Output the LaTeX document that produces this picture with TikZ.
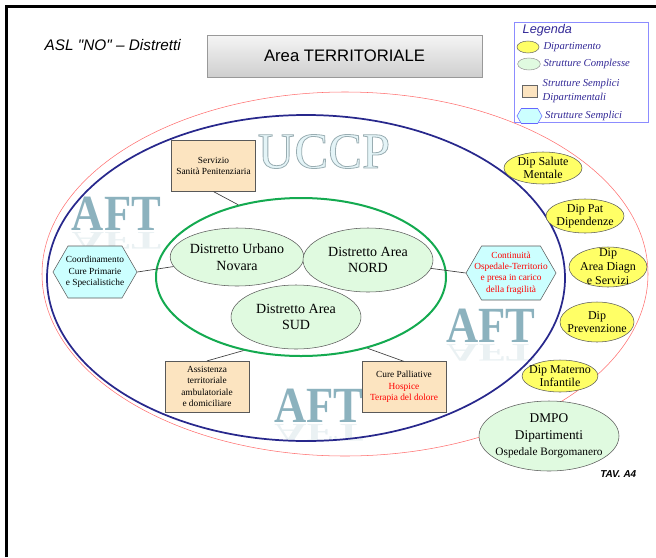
\documentclass[tikz,border=0pt]{standalone}
\usepackage{fontspec}
\setmainfont{Liberation Serif}
\newfontfamily\arialfont{Liberation Sans}
\usepackage{tikz}
\usetikzlibrary{positioning, shapes.geometric, shapes.symbols}
\definecolor{distgreen}{RGB}{224,250,224}
\definecolor{dipyellow}{RGB}{255,255,102}
\definecolor{peach}{RGB}{252,228,192}
\definecolor{hexcyan}{RGB}{204,255,255}
\definecolor{ringblue}{RGB}{40,40,140}
\definecolor{ringgreen}{RGB}{20,170,80}
\definecolor{ringred}{RGB}{255,110,110}
\definecolor{aftblue}{RGB}{140,178,190}
\definecolor{uccpfill}{RGB}{228,244,247}
\definecolor{legtext}{RGB}{50,40,150}
\definecolor{legframe}{RGB}{140,140,255}

\begin{document}
\begin{tikzpicture}[x=0.75pt, y=-0.75pt]
\tikzstyle{ring}=[ellipse, inner sep=0pt]
\tikzstyle{distretto}=[draw=black!65, ellipse, fill=distgreen, inner sep=0pt, align=center, minimum width=97.5pt, minimum height=48pt, font=\fontsize{10.5}{12.5}\selectfont]
\tikzstyle{dip}=[draw=black!65, ellipse, fill=dipyellow, inner sep=-3pt, align=center, font=\fontsize{9}{10}\selectfont]
\tikzstyle{service}=[draw=black!65, rectangle, fill=peach, align=center, minimum width=63pt, minimum height=38pt, inner sep=1pt, font=\fontsize{7}{8.5}\selectfont]
\tikzstyle{hex}=[draw=black!65, signal, signal to=east and west, signal pointer angle=120, fill=hexcyan, align=center, inner xsep=-8pt, inner ysep=2pt, font=\fontsize{7}{8.5}\selectfont]
\tikzstyle{link}=[draw, black!75, line width=0.5pt]
\tikzstyle{aft}=[anchor=base, inner sep=0pt, text=aftblue, font=\fontsize{38}{38}\selectfont\bfseries, xscale=0.88, transform shape]
\tikzstyle{aft-mirror}=[aft, yscale=-0.5, text=aftblue!18]
\tikzstyle{legtxt}=[inner sep=1pt, text=legtext, align=left, font=\fontsize{8}{10}\selectfont\itshape]

\useasboundingbox (0,0) rectangle (656,557);
\draw[line width=2pt] (6.5,557) -- (6.5,6.5) -- (656,6.5);

\node[aft] (aft-left) at (116.5,230) {AFT};
\node[aft-mirror] (aft-left-r) at (116.5,232) {AFT};
\node[aft] (aft-right) at (491,342) {AFT};
\node[aft-mirror] (aft-right-r) at (491,344) {AFT};
\node[aft] (aft-bottom) at (319,422) {AFT};
\node[aft-mirror] (aft-bottom-r) at (319,424) {AFT};
\node[anchor=base, inner sep=0pt, text=uccpfill, font=\fontsize{38}{38}\selectfont] (uccp) at (324,168)
  {\special{pdf:literal direct 2 Tr 0.6 w 0.6 0.68 0.7 RG}UCCP\special{pdf:literal direct 0 Tr}};

\node[anchor=west, font=\arialfont\itshape\fontsize{11.5}{13}\selectfont] (asl-title) at (40,45) {ASL "NO" – Distretti};
\node[draw=black!40, top color=gray!8, bottom color=gray!38, minimum width=206pt, minimum height=31.5pt, font=\arialfont\fontsize{12.5}{14}\selectfont] (area-terr) at (344.5,56) {Area TERRITORIALE};

\node[ring, draw=ringred, line width=0.4pt, minimum width=454.5pt, minimum height=273pt] (outer-ring) at (345,274) {};
\node[ring, draw=ringblue, line width=1.3pt, minimum width=388.5pt, minimum height=244.5pt] (uccp-ring) at (306,278) {};
\node[ring, draw=ringgreen, line width=1.5pt, minimum width=217.5pt, minimum height=118.5pt] (dist-ring) at (301,277) {};

\node[distretto, minimum height=43.5pt] (urbano) at (237,257) {Distretto Urbano\\Novara};
\node[distretto] (nord) at (368,260) {Distretto Area\\NORD};
\node[distretto] (sud) at (296,317) {Distretto Area\\SUD};

\node[service] (penit) at (213.5,166) {Servizio\\Sanità Penitenziaria};
\node[service] (assist) at (207,386.5) {Assistenza\\territoriale\\ambulatoriale\\e domiciliare};
\node[service] (palliative) at (404,387) {Cure Palliative\\\textcolor{red}{Hospice}\\\textcolor{red}{Terapia del dolore}};

\node[hex, minimum width=63pt, minimum height=39pt] (coord-hex) at (95,272) {Coordinamento\\Cure Primarie\\e Specialistiche};
\node[hex, text=red, minimum width=67.5pt, minimum height=40.5pt] (cont-hex) at (511,273) {Continuità\\Ospedale-Territorio\\e presa in carico\\della fragilità};

\path[link] (penit.south) edge (dist-ring.131);
\path[link] (coord-hex.east) edge (urbano);
\path[link] (nord) edge (cont-hex.west);
\path[link] (assist.north) edge (dist-ring.232);
\path[link] (palliative.north) edge (dist-ring.313);

\node[dip, minimum width=58.5pt, minimum height=24pt] (dip-mental) at (543,168) {Dip Salute\\Mentale};
\node[dip, minimum width=58.5pt, minimum height=25.5pt] (dip-pat) at (585,216) {Dip Pat\\Dipendenze};
\node[dip, minimum width=58.5pt, minimum height=30pt, inner sep=-5pt, font=\fontsize{9}{10.5}\selectfont] (dip-diagn) at (608,267) {Dip\\Area Diagn\\e Servizi};
\node[dip, minimum width=55.5pt, minimum height=30pt, inner sep=-5pt] (dip-prev) at (597,322) {Dip\\Prevenzione};
\node[dip, minimum width=55.5pt, minimum height=24pt] (dip-mat) at (560,376) {Dip Materno\\Infantile};
\node[distretto, minimum width=105pt, minimum height=52.5pt, inner sep=-6pt, font=\fontsize{10}{12.5}\selectfont] (dmpo) at (549,436) {DMPO\\Dipartimenti\\{\fontsize{8.5}{12.5}\selectfont Ospedale Borgomanero}};

\node[anchor=east, font=\arialfont\bfseries\itshape\fontsize{7.5}{9}\selectfont] (tav) at (641,474) {TAV. A4};

\draw[legframe, line width=0.6pt] (514,22) rectangle (648,122);
\node[anchor=west, text=legtext, font=\arialfont\itshape\fontsize{9.5}{10}\selectfont] (leg-title) at (518,30) {Legenda};
\node[draw=black!60, ellipse, fill=dipyellow, minimum width=16.5pt, minimum height=9pt, inner sep=0pt] (leg-dip) at (528,47) {};
\node[legtxt, right=2pt of leg-dip] (leg-dip-txt) {Dipartimento};
\node[draw=black!40, ellipse, fill=distgreen, minimum width=17pt, minimum height=9pt, inner sep=0pt] (leg-sc) at (529,64) {};
\node[legtxt, right=1pt of leg-sc] (leg-sc-txt) {Strutture Complesse};
\node[draw=black!60, fill=peach, minimum width=11pt, minimum height=9pt, inner sep=0pt] (leg-ssd) at (529.5,91) {};
\node[legtxt, right=3pt of leg-ssd] (leg-ssd-txt) {Strutture Semplici\\Dipartimentali};
\node[draw=blue!60, signal, signal to=east and west, signal pointer angle=120, fill=hexcyan, minimum width=18.75pt, minimum height=11.25pt, inner sep=0pt] (leg-ss) at (529.5,116) {};
\node[legtxt, right=1pt of leg-ss] (leg-ss-txt) {Strutture Semplici};
\end{tikzpicture}
\end{document}
